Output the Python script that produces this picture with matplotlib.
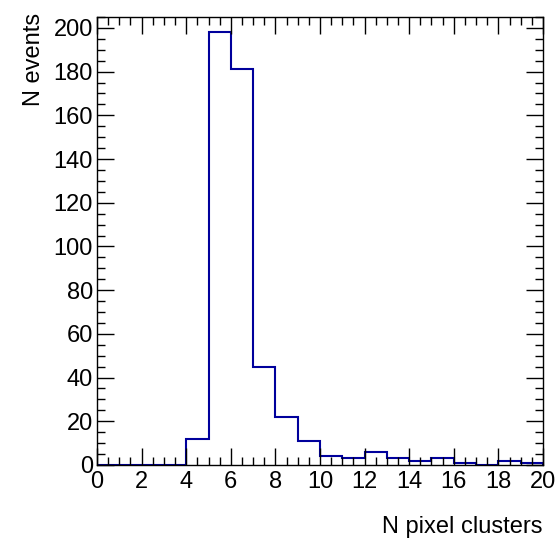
import numpy as np
import matplotlib.pyplot as plt
from matplotlib.ticker import MultipleLocator

plt.rcParams["font.family"] = ["Liberation Sans", "DejaVu Sans"]

# histogram contents (20 unit bins from 0 to 20)
bin_edges = list(range(0, 21))
counts = [0, 0, 0, 0, 12, 198, 181, 45, 22, 11, 4, 3, 6, 3, 2, 3, 1, 0, 2, 1]

LINE_COL = "#00009c"

fig = plt.figure(figsize=(5.56, 5.48), dpi=100)
ax = fig.add_axes([0.1745, 0.1515, 0.8021, 0.8175])

ax.stairs(counts, bin_edges, color=LINE_COL, linewidth=1.5, baseline=0)

ax.set_xlim(0, 20)
ax.set_ylim(0, 205)

ax.xaxis.set_major_locator(MultipleLocator(2))
ax.xaxis.set_minor_locator(MultipleLocator(0.5))
ax.yaxis.set_major_locator(MultipleLocator(20))
ax.yaxis.set_minor_locator(MultipleLocator(5))

ax.tick_params(which="both", direction="in", top=True, right=True,
               width=1, labelsize=17, color="black")
ax.tick_params(axis="x", which="major", length=12, pad=4)
ax.tick_params(axis="y", which="major", length=12, pad=3)
ax.tick_params(which="minor", length=6)
for sp in ax.spines.values():
    sp.set_linewidth(1)

ax.set_xlabel("N pixel clusters", fontsize=17, loc="right", labelpad=17)
ax.set_ylabel("N events", fontsize=17, loc="top", labelpad=6)
ax.yaxis.label.set_y(1.01)

fig.savefig("out.png", dpi=100, facecolor="white")
